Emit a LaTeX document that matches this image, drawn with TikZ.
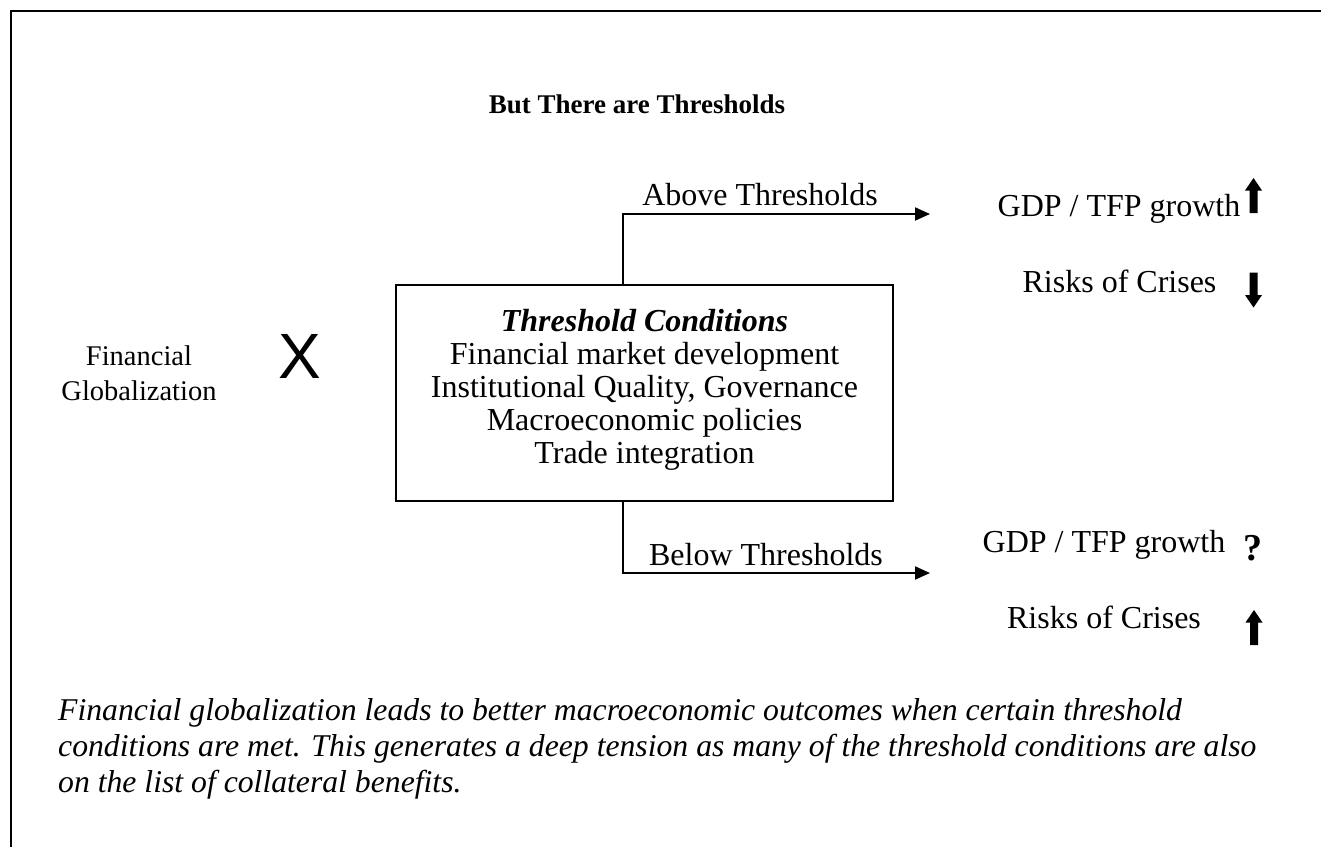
\documentclass[tikz,border=0pt]{standalone}
\usepackage{fontspec}
\setmainfont{Liberation Serif}
\newfontfamily\arialfont{Liberation Sans}
\usetikzlibrary{arrows.meta}
\newcommand\fatarrow[3]{% x, y (center, pixel coords), 1 = up, -1 = down
  \fill[shift={(#1,#2)},yscale=#3] (-4,17.5) -- (4,17.5) -- (4,-5) -- (8.5,-5) -- (0,-17.5) -- (-8.5,-5) -- (-4,-5) -- cycle;}
\begin{document}
\begin{tikzpicture}[x=1pt,y=-1pt,
  txt/.style={inner sep=0pt, font=\fontsize{32}{33}\selectfont},
  box/.style={draw, line width=2pt, inner sep=0pt},
  conn/.style={line width=2pt, -{Triangle[length=15pt,width=13pt]}}]
\useasboundingbox (0,0) rectangle (1321,846);
% outer frame (top and left edges)
\draw[line width=2pt] (11,900) -- (11,11) -- (1340,11);
% title
\node[inner sep=0pt, font=\fontsize{27}{30}\selectfont\bfseries] (title) at (637,104) {But There are Thresholds};
% left
\node[inner sep=0pt, align=center, font=\fontsize{28.5}{35}\selectfont] (fg) at (139,373) {Financial\\Globalization};
\node[inner sep=0pt, font=\arialfont\fontsize{64}{64}\selectfont] (x) at (300,356) {X};
% central box
\node[box, minimum width=497pt, minimum height=216pt] (tc) at (644.5,393) {};
\node[txt, align=center] (tctext) at (644.5,390) {\bfseries\itshape Threshold Conditions\\
Financial market development\\Institutional Quality, Governance\\Macroeconomic policies\\Trade integration};
% connectors
\coordinate (a1) at (623,214);
\coordinate (a2) at (930,214);
\coordinate (b1) at (623,573);
\coordinate (b2) at (930,573);
\draw[conn] (tc.north -| a1) -- (a1) -- (a2);
\draw[conn] (tc.south -| b1) -- (b1) -- (b2);
\node[txt] (above) at (760,195) {Above Thresholds};
\node[txt] (below) at (766,555) {Below Thresholds};
% outcomes above
\node[txt, anchor=base] (g1) at (1119,216) {GDP / TFP growth};
\node[txt, anchor=base] (r1) at (1119.5,292) {Risks of Crises};
\fatarrow{1253.5}{195.5}{1}
\fatarrow{1253.5}{290}{-1}
% outcomes below
\node[txt, anchor=base] (g2) at (1104,552) {GDP / TFP growth};
\node[txt, anchor=base] (r2) at (1104,628) {Risks of Crises};
\node[inner sep=0pt, font=\fontsize{38}{38}\selectfont\bfseries, anchor=base] (q) at (1253,560) {?};
\fatarrow{1254}{627.5}{1}
% caption
\node[inner sep=0pt, anchor=north west, align=left, font=\fontsize{31.7}{36}\selectfont\itshape] (cap) at (58,698) {Financial globalization leads to better macroeconomic outcomes when certain threshold\\
conditions are met. This generates a deep tension as many of the threshold conditions are also\\
on the list of collateral benefits.};
\end{tikzpicture}
\end{document}
